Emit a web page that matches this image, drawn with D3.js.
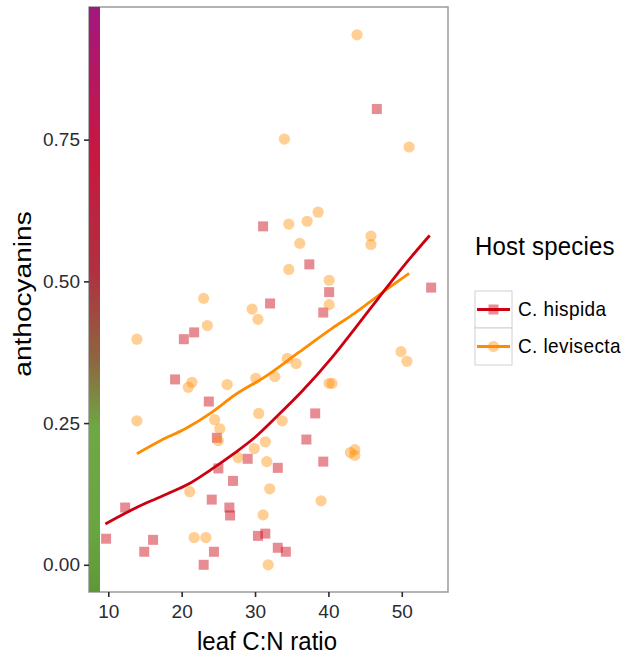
<!DOCTYPE html>
<html>
<head>
<meta charset="utf-8">
<script src="https://cdn.jsdelivr.net/npm/d3@7"></script>
<style>
  body { margin: 0; background: #fff; }
  text { font-family: "Liberation Sans", Arial, sans-serif; }
</style>
</head>
<body>
<script>
const svgWidth = 629
const svgHeight = 659

const margin = { top: 7, right: 181, bottom: 67, left: 89 }
const chartWidth = svgWidth - margin.left - margin.right
const chartHeight = svgHeight - margin.top - margin.bottom

const colorHispida = "#cc0011"
const colorLevisecta = "#ff8c00"
const textColor = "#2b2b33"

// C. hispida points (leaf C:N ratio, anthocyanins)
const hispidaCN = [46.6, 31.1, 32.05, 37.4, 40.1, 39.3, 54.0, 20.3, 21.7, 19.1, 23.7, 24.8, 29.0, 25.0, 27.0, 24.1,
    26.5, 26.6, 12.3, 9.7, 16.1, 14.9, 24.4, 23.0, 30.4, 31.4, 33.1, 34.2, 33.1, 37.0, 38.2, 39.3]
const hispidaAnth = [0.804, 0.597, 0.461, 0.530, 0.481, 0.445, 0.489, 0.398, 0.410, 0.327, 0.288, 0.224, 0.187, 0.170, 0.148, 0.115,
    0.101, 0.087, 0.101, 0.046, 0.044, 0.023, 0.023, 0.000, 0.051, 0.055, 0.030, 0.023, 0.171, 0.221, 0.267, 0.182]

// C. levisecta points
const levisectaCN = [43.9, 34.0, 51.0, 34.6, 37.1, 38.6, 45.8, 45.8, 36.1, 34.6, 40.1, 40.1, 49.9, 50.7, 34.4, 35.6,
    32.7, 40.1, 40.5, 23.0, 29.6, 30.4, 23.5, 13.9, 21.4, 20.9, 26.2, 30.1, 13.9, 24.5, 25.2, 25.0,
    30.5, 29.9, 31.4, 27.7, 31.6, 33.7, 21.1, 21.7, 23.3, 31.1, 31.8, 43.0, 43.6, 43.6, 32.0, 39.0]
const levisectaAnth = [0.935, 0.751, 0.737, 0.601, 0.606, 0.622, 0.580, 0.565, 0.567, 0.521, 0.502, 0.459, 0.376, 0.359, 0.364, 0.355,
    0.332, 0.320, 0.320, 0.470, 0.451, 0.433, 0.422, 0.398, 0.322, 0.313, 0.318, 0.329, 0.254, 0.256, 0.240, 0.219,
    0.267, 0.205, 0.217, 0.189, 0.182, 0.254, 0.129, 0.048, 0.048, 0.088, 0.000, 0.198, 0.203, 0.193, 0.134, 0.113]

// fitted curves
const hispidaFitCN = [9.6, 12.3, 15, 18, 21, 24, 27.3, 30, 33, 36.4, 40.5, 43.5, 46.8, 50, 53.8]
const hispidaFitAnth = [0.072, 0.091, 0.108, 0.125, 0.143, 0.168, 0.198, 0.225, 0.262, 0.306, 0.366, 0.415, 0.470, 0.523, 0.581]
const levisectaFitCN = [13.9, 17.1, 20.5, 24, 27.3, 31.4, 36, 40.5, 43.5, 46.8, 51.0]
const levisectaFitAnth = [0.196, 0.219, 0.240, 0.268, 0.300, 0.332, 0.375, 0.417, 0.443, 0.475, 0.514]

const xTicks = [10, 20, 30, 40, 50]
const yTicks = [0, 0.25, 0.5, 0.75]
const speciesNames = ["C. hispida", "C. levisecta"]

const hispida = hispidaCN.map((d, i) => ({ cn: d, anth: hispidaAnth[i] }))
const levisecta = levisectaCN.map((d, i) => ({ cn: d, anth: levisectaAnth[i] }))
const hispidaFit = hispidaFitCN.map((d, i) => ({ cn: d, anth: hispidaFitAnth[i] }))
const levisectaFit = levisectaFitCN.map((d, i) => ({ cn: d, anth: levisectaFitAnth[i] }))

const svg = d3.select("body").append("svg")
    .attr("width", svgWidth)
    .attr("height", svgHeight)

const defs = svg.append("defs")
const grad = defs.append("linearGradient")
    .attr("id", "anthGrad")
    .attr("x1", 0).attr("y1", 0).attr("x2", 0).attr("y2", 1)
const stops = [
    [0, "#a3187f"], [0.25, "#c8173f"], [0.45, "#b03040"], [0.6, "#8e6440"],
    [0.72, "#6ea843"], [0.9, "#68a641"], [1, "#5e9838"]
]
grad.selectAll("stop").data(stops).join("stop")
    .attr("offset", d => d[0])
    .attr("stop-color", d => d[1])

const chartG = svg.append("g")
    .attr("transform", `translate(${margin.left}, ${margin.top})`)

const x = d3.scaleLinear()
    .domain([7.37, 56.3])
    .range([0, chartWidth])

const y = d3.scaleLinear()
    .domain([-0.048, 0.984])
    .range([chartHeight, 0])

// panel
chartG.append("rect")
    .attr("width", chartWidth)
    .attr("height", chartHeight)
    .attr("fill", "white")
    .attr("stroke", "#a0a0a0")
    .attr("stroke-width", 1.6)

const line = d3.line()
    .x(d => x(d.cn))
    .y(d => y(d.anth))
    .curve(d3.curveMonotoneX)

// points
chartG.append("g")
    .selectAll("rect")
    .data(hispida)
    .join("rect")
    .attr("x", d => x(d.cn) - 5)
    .attr("y", d => y(d.anth) - 5)
    .attr("width", 10)
    .attr("height", 10)
    .attr("fill", colorHispida)
    .attr("fill-opacity", 0.45)

chartG.append("g")
    .selectAll("circle")
    .data(levisecta)
    .join("circle")
    .attr("cx", d => x(d.cn))
    .attr("cy", d => y(d.anth))
    .attr("r", 5.6)
    .attr("fill", colorLevisecta)
    .attr("fill-opacity", 0.42)

// fitted lines
chartG.append("path")
    .attr("d", line(levisectaFit))
    .attr("fill", "none")
    .attr("stroke", colorLevisecta)
    .attr("stroke-width", 2.8)

chartG.append("path")
    .attr("d", line(hispidaFit))
    .attr("fill", "none")
    .attr("stroke", colorHispida)
    .attr("stroke-width", 2.8)

// coloured bar on the left edge of the panel
chartG.append("rect")
    .attr("x", 0)
    .attr("y", 0)
    .attr("width", 11)
    .attr("height", chartHeight)
    .attr("fill", "url(#anthGrad)")

// axes
const yAxis = d3.axisLeft(y).tickValues(yTicks).tickFormat(d3.format(".2f")).tickSize(5).tickPadding(4)
const xAxis = d3.axisBottom(x).tickValues(xTicks).tickSize(5).tickPadding(5)

const yG = chartG.append("g").call(yAxis)
const xG = chartG.append("g")
    .attr("transform", `translate(0, ${chartHeight})`)
    .call(xAxis)

for (const g of [yG, xG]) {
    g.select(".domain").remove()
    g.selectAll(".tick line").attr("stroke", textColor).attr("stroke-width", 1.6)
    g.selectAll(".tick text")
        .attr("fill", textColor)
        .attr("font-size", 19)
        .attr("font-family", "Liberation Sans, Arial, sans-serif")
}
xG.selectAll(".tick text").attr("dy", "0.85em")

// axis titles
svg.append("text")
    .attr("transform", `translate(267, 650) scale(1, 1.1)`)
    .attr("text-anchor", "middle")
    .attr("font-size", 24)
    .attr("fill", "black")
    .text("leaf C:N ratio")

svg.append("text")
    .attr("transform", `translate(31, 294) scale(1, 1.17) rotate(-90)`)
    .attr("text-anchor", "middle")
    .attr("font-size", 24)
    .attr("fill", "black")
    .text("anthocyanins")

// legend
const legend = svg.append("g")
    .attr("transform", "translate(475, 255)")

legend.append("text")
    .attr("transform", "scale(1, 1.1)")
    .attr("font-size", 24)
    .attr("letter-spacing", 0.2)
    .attr("fill", "black")
    .text("Host species")

const keys = legend.selectAll(".key")
    .data(speciesNames)
    .join("g")
    .attr("class", "key")
    .attr("transform", (d, i) => `translate(0, ${36 + i * 37})`)

keys.append("rect")
    .attr("width", 37)
    .attr("height", 37)
    .attr("fill", "white")
    .attr("stroke", "#d0d0d0")

keys.append("line")
    .attr("x1", 2).attr("x2", 35)
    .attr("y1", 18.5).attr("y2", 18.5)
    .attr("stroke", (d, i) => i === 0 ? colorHispida : colorLevisecta)
    .attr("stroke-width", 2.8)

keys.filter((d, i) => i === 0).append("rect")
    .attr("x", 13.5).attr("y", 13.5)
    .attr("width", 10).attr("height", 10)
    .attr("fill", colorHispida)
    .attr("fill-opacity", 0.45)

keys.filter((d, i) => i === 1).append("circle")
    .attr("cx", 18.5).attr("cy", 18.5)
    .attr("r", 5.6)
    .attr("fill", colorLevisecta)
    .attr("fill-opacity", 0.42)

keys.append("text")
    .attr("transform", "translate(43, 25) scale(1, 1.05)")
    .attr("font-size", 19)
    .attr("letter-spacing", 0.4)
    .attr("fill", "black")
    .text(d => d)
</script>
</body>
</html>
